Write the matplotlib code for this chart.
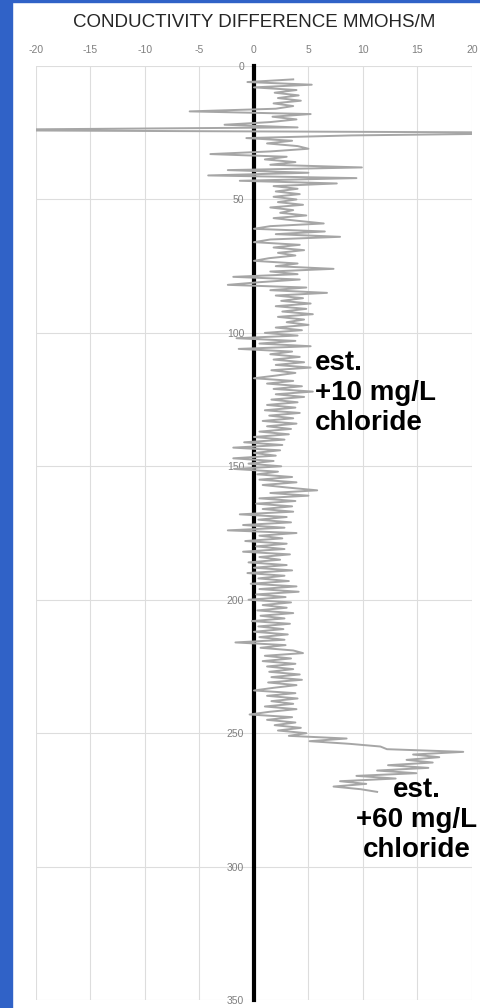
import matplotlib.pyplot as plt
import numpy as np
from matplotlib.patches import Rectangle


# Conductivity difference (mmohs/m) read off the log, one reading per depth unit
# starting at depth 5. The +/-30 pair is the big spike that runs off both sides.
depth_start = 5
cond = [
    3.6, -0.6, 5.3, 0.0, 3.9, 1.9, 4.1, 2.2, 4.3, 1.8,
    3.6, 2.0, -5.9, 5.2, 1.7, 3.9, 1.5, -2.7, 4.0, -30.0,
    30.0, 9.0, -0.7, 3.5, 1.2, 4.0, 5.0, 1.5, -4.0, 3.0,
    1.0, 3.8, 1.5, 9.9, -2.4, 5.0, -4.2, 9.4, -1.3, 7.6,
    1.8, 4.0, 2.0, 4.2, 1.8, 3.9, 2.2, 4.5, 1.5, 3.6,
    2.4, 4.8, 1.8, 4.0, 6.4, 1.5, 0.0, 6.5, 2.0, 7.9,
    1.5, 0.0, 4.2, 1.8, 4.6, 2.2, 3.8, 1.4, 0.0, 4.0,
    2.0, 7.3, 1.5, 4.0, -1.9, 4.2, 0.5, -2.4, 4.8, 1.5,
    6.7, 2.0, 4.5, 2.5, 5.2, 2.0, 4.8, 2.6, 5.4, 2.2,
    4.6, 3.0, 5.0, 2.0, 4.4, 1.0, 4.0, -1.6, 3.8, 0.5,
    5.2, -1.4, 3.5, 1.5, 4.2, 1.8, 4.6, 2.0, 5.2, 1.6,
    3.8, 2.0, 0.0, 3.6, 1.2, 4.4, 1.8, 5.4, 2.0, 4.6,
    1.6, 4.0, 1.2, 3.8, 1.0, 4.2, 1.4, 3.6, 0.8, 3.9,
    1.2, 3.4, 0.5, 3.2, 0.0, 2.8, -0.9, 2.6, -1.9, 2.4,
    0.0, 2.0, -1.9, 1.8, -0.5, 2.5, -1.8, 2.2, 0.3, 3.5,
    0.5, 3.9, 0.8, 3.2, 5.8, 1.5, 5.0, 0.5, 3.8, 0.2,
    3.5, 0.8, 3.6, -1.3, 3.0, 0.4, 3.4, -1.0, 2.8, -2.4,
    3.9, 0.5, 2.6, -0.8, 3.0, 0.2, 2.8, -1.0, 3.3, 0.5,
    2.4, -0.5, 3.0, 0.0, 3.5, -0.6, 2.8, 0.4, 3.2, -0.3,
    3.9, 0.5, 4.1, 0.2, 2.9, -0.5, 3.4, 0.8, 3.0, 0.3,
    3.6, 0.6, 2.8, -0.2, 3.3, 0.4, 2.7, 0.0, 3.1, 0.5,
    2.8, -1.7, 2.9, 0.6, 3.6, 4.5, 1.0, 3.4, 0.8, 3.8,
    1.2, 3.6, 1.4, 4.2, 1.6, 4.4, 1.3, 3.9, 1.8, 0.0,
    3.8, 1.2, 4.0, 1.6, 3.6, 1.0, 3.9, 1.4, -0.4, 3.5,
    1.2, 3.8, 1.9, 4.3, 2.2, 4.8, 3.2, 8.5, 5.1, 8.8,
    11.6, 12.2, 19.2, 14.6, 17.0, 14.0, 16.4, 12.3, 16.0, 11.3,
    14.9, 9.4, 13.0, 7.9, 10.3, 7.3, 9.8, 11.3,
]
depth = np.arange(len(cond)) + depth_start

x_ticks = [-20, -15, -10, -5, 0, 5, 10, 15, 20]
y_ticks = [0, 50, 100, 150, 200, 250, 300, 350]

title = "CONDUCTIVITY DIFFERENCE MMOHS/M"
note_top = "est.\n+10 mg/L\nchloride"
note_bottom = "est.\n+60 mg/L\nchloride"

plt.rcParams['font.family'] = ['Liberation Sans', 'DejaVu Sans']
plt.rcParams['axes.unicode_minus'] = False

fig = plt.figure(figsize=(4.81, 10.08), dpi=100)
ax = fig.add_axes([0.0748, 0.0079, 0.9064, 0.9266])

# blue frame strip on the left and top edge of the slide
fig.patches.append(Rectangle((0, 0), 12 / 481, 1, transform=fig.transFigure,
                             color='#3062C7', zorder=0))
fig.patches.append(Rectangle((0, 1 - 2 / 1008), 1, 2 / 1008, transform=fig.transFigure,
                             color='#3062C7', zorder=0))

ax.plot(cond, depth, color='#A6A6A6', linewidth=1.4, zorder=3)

ax.set_xlim(-20, 20)
ax.set_ylim(350, 0)
ax.set_xticks(x_ticks)
ax.set_yticks(y_ticks)
ax.xaxis.tick_top()

# the black zero line is the y axis spine
for side in ['top', 'right', 'bottom']:
    ax.spines[side].set_visible(False)
ax.spines['left'].set_position(('data', 0))
ax.spines['left'].set_linewidth(3)
ax.spines['left'].set_color('black')
ax.spines['left'].set_zorder(2.5)

ax.tick_params(axis='x', length=0, pad=8, labelsize=7.5, labelcolor='#7F7F7F')
ax.tick_params(axis='y', length=0, pad=7, labelsize=7.5, labelcolor='#7F7F7F')

ax.grid(True, color='#DDDDDD', linewidth=0.8)
ax.set_axisbelow(True)

fig.text(254 / 481, 1 - 22.5 / 1008, title, ha='center', va='center',
         fontsize=13.5, color='#262626')

ax.text(5.6, 106.5, note_top, ha='left', va='top', fontsize=20,
        fontweight='bold', color='black', linespacing=1.2)
ax.text(14.9, 266.5, note_bottom, ha='center', va='top', fontsize=20,
        fontweight='bold', color='black', linespacing=1.2, multialignment='center')

fig.savefig('out.png', dpi=100)
